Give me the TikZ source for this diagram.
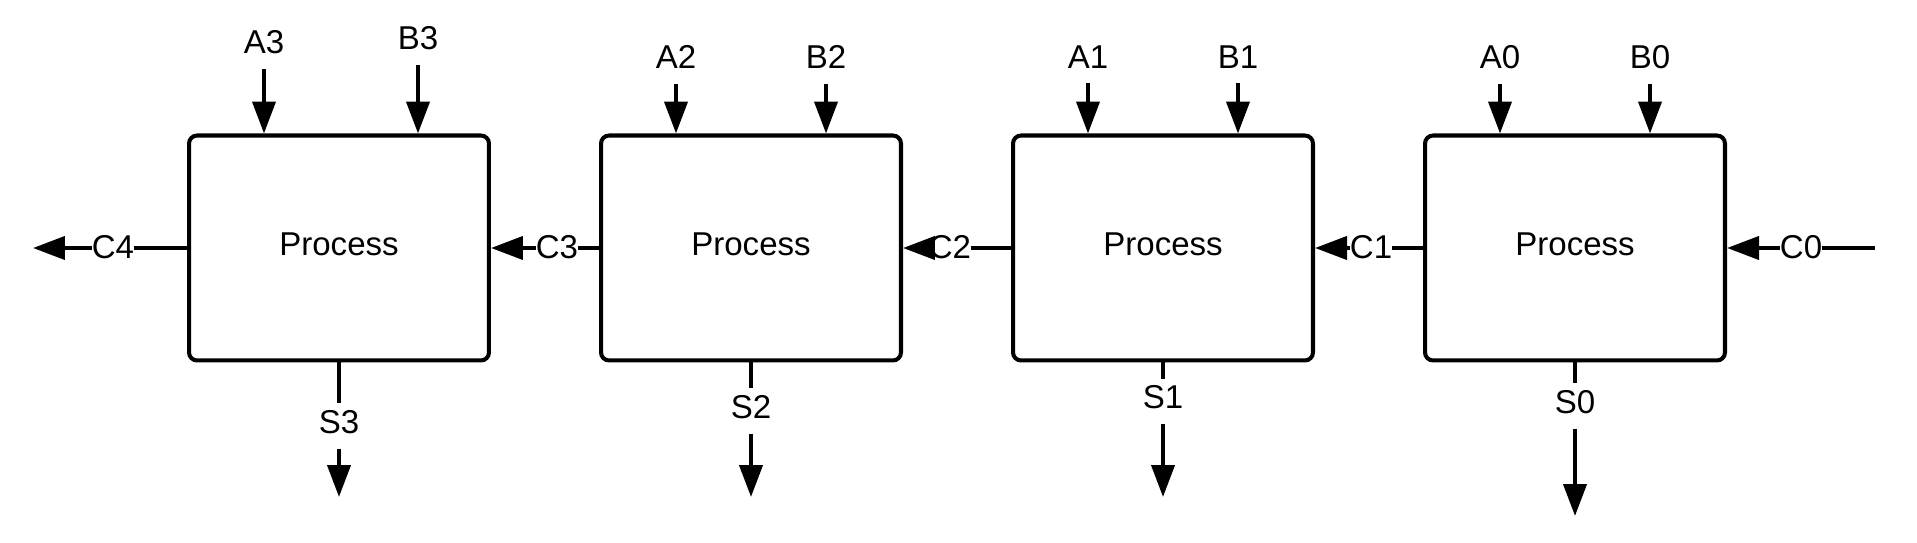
\documentclass[tikz,border=0pt]{standalone}
\usepackage{fontspec}
\setmainfont{Liberation Sans}
\usetikzlibrary{positioning,arrows.meta}

\begin{document}
\begin{tikzpicture}[x=0.02cm, y=-0.02cm, line width=2.3pt,
    every node/.style = {font=\fontsize{18.8pt}{22pt}\selectfont},
    process/.style = {draw, rounded corners=0.16cm, minimum width=6cm, minimum height=4.5cm, text depth=0.16cm},
    tag/.style = {inner xsep=-1pt, inner ysep=0.1cm},
    sig/.style = {-{Triangle[length=0.64cm, width=0.46cm]}},
    gap/.style = {shorten <=0.16cm}]
    \useasboundingbox (0,0) rectangle (1917,543);

    \node[process] (proc3) at (339,248) {Process};
    \node[process] (proc2) at (751,248) {Process};
    \node[process] (proc1) at (1163,248) {Process};
    \node[process] (proc0) at (1575,248) {Process};

    \node[tag] (a3) at (264,42) {A3};
    \node[tag] (b3) at (418,38) {B3};
    \node[tag] (a2) at (676,57) {A2};
    \node[tag] (b2) at (826,57) {B2};
    \node[tag] (a1) at (1088,57) {A1};
    \node[tag] (b1) at (1238,57) {B1};
    \node[tag] (a0) at (1500,57) {A0};
    \node[tag] (b0) at (1650,57) {B0};

    \node[tag] (c4) at (113,247) {C4};
    \node[tag] (c3) at (557,247) {C3};
    \node[tag] (c2) at (950,247) {C2};
    \node[tag] (c1) at (1371,247) {C1};
    \node[tag] (c0) at (1801,247) {C0};
    \coordinate (c4end) at (33,248);
    \coordinate (c0start) at (1875,248);

    \node[tag] (s3) at (339,422) {S3};
    \node[tag] (s2) at (751,407) {S2};
    \node[tag] (s1) at (1163,397.5) {S1};
    \node[tag] (s0) at (1575,402) {S0};
    \coordinate (s3end) at (339,497);
    \coordinate (s2end) at (751,497);
    \coordinate (s1end) at (1163,497);
    \coordinate (s0end) at (1575,516);

    \draw[sig, gap] (a3) -- (a3 |- proc3.north);
    \draw[sig, gap] (b3) -- (b3 |- proc3.north);
    \draw[sig, gap] (a2) -- (a2 |- proc2.north);
    \draw[sig, gap] (b2) -- (b2 |- proc2.north);
    \draw[sig, gap] (a1) -- (a1 |- proc1.north);
    \draw[sig, gap] (b1) -- (b1 |- proc1.north);
    \draw[sig, gap] (a0) -- (a0 |- proc0.north);
    \draw[sig, gap] (b0) -- (b0 |- proc0.north);

    \draw (proc3.west) -- (c4.east |- proc3.west);
    \draw[sig] (c4.west |- c4end) -- (c4end);
    \draw (proc2.west) -- (c3.east |- proc2.west);
    \draw[sig] (c3.west |- proc3.east) -- (proc3.east);
    \draw (proc1.west) -- (c2.east |- proc1.west);
    \draw[sig] (c2.west |- proc2.east) -- (proc2.east);
    \draw (proc0.west) -- (c1.east |- proc0.west);
    \draw[sig] (c1.west |- proc1.east) -- (proc1.east);
    \draw (c0start) -- (c0.east |- c0start);
    \draw[sig] (c0.west |- proc0.east) -- (proc0.east);

    \draw (proc3.south) -- (s3);
    \draw[sig, gap] (s3) -- (s3end);
    \draw (proc2.south) -- (s2);
    \draw[sig, gap] (s2) -- (s2end);
    \draw (proc1.south) -- (s1);
    \draw[sig, gap] (s1) -- (s1end);
    \draw (proc0.south) -- (s0);
    \draw[sig, gap] (s0) -- (s0end);
\end{tikzpicture}
\end{document}
